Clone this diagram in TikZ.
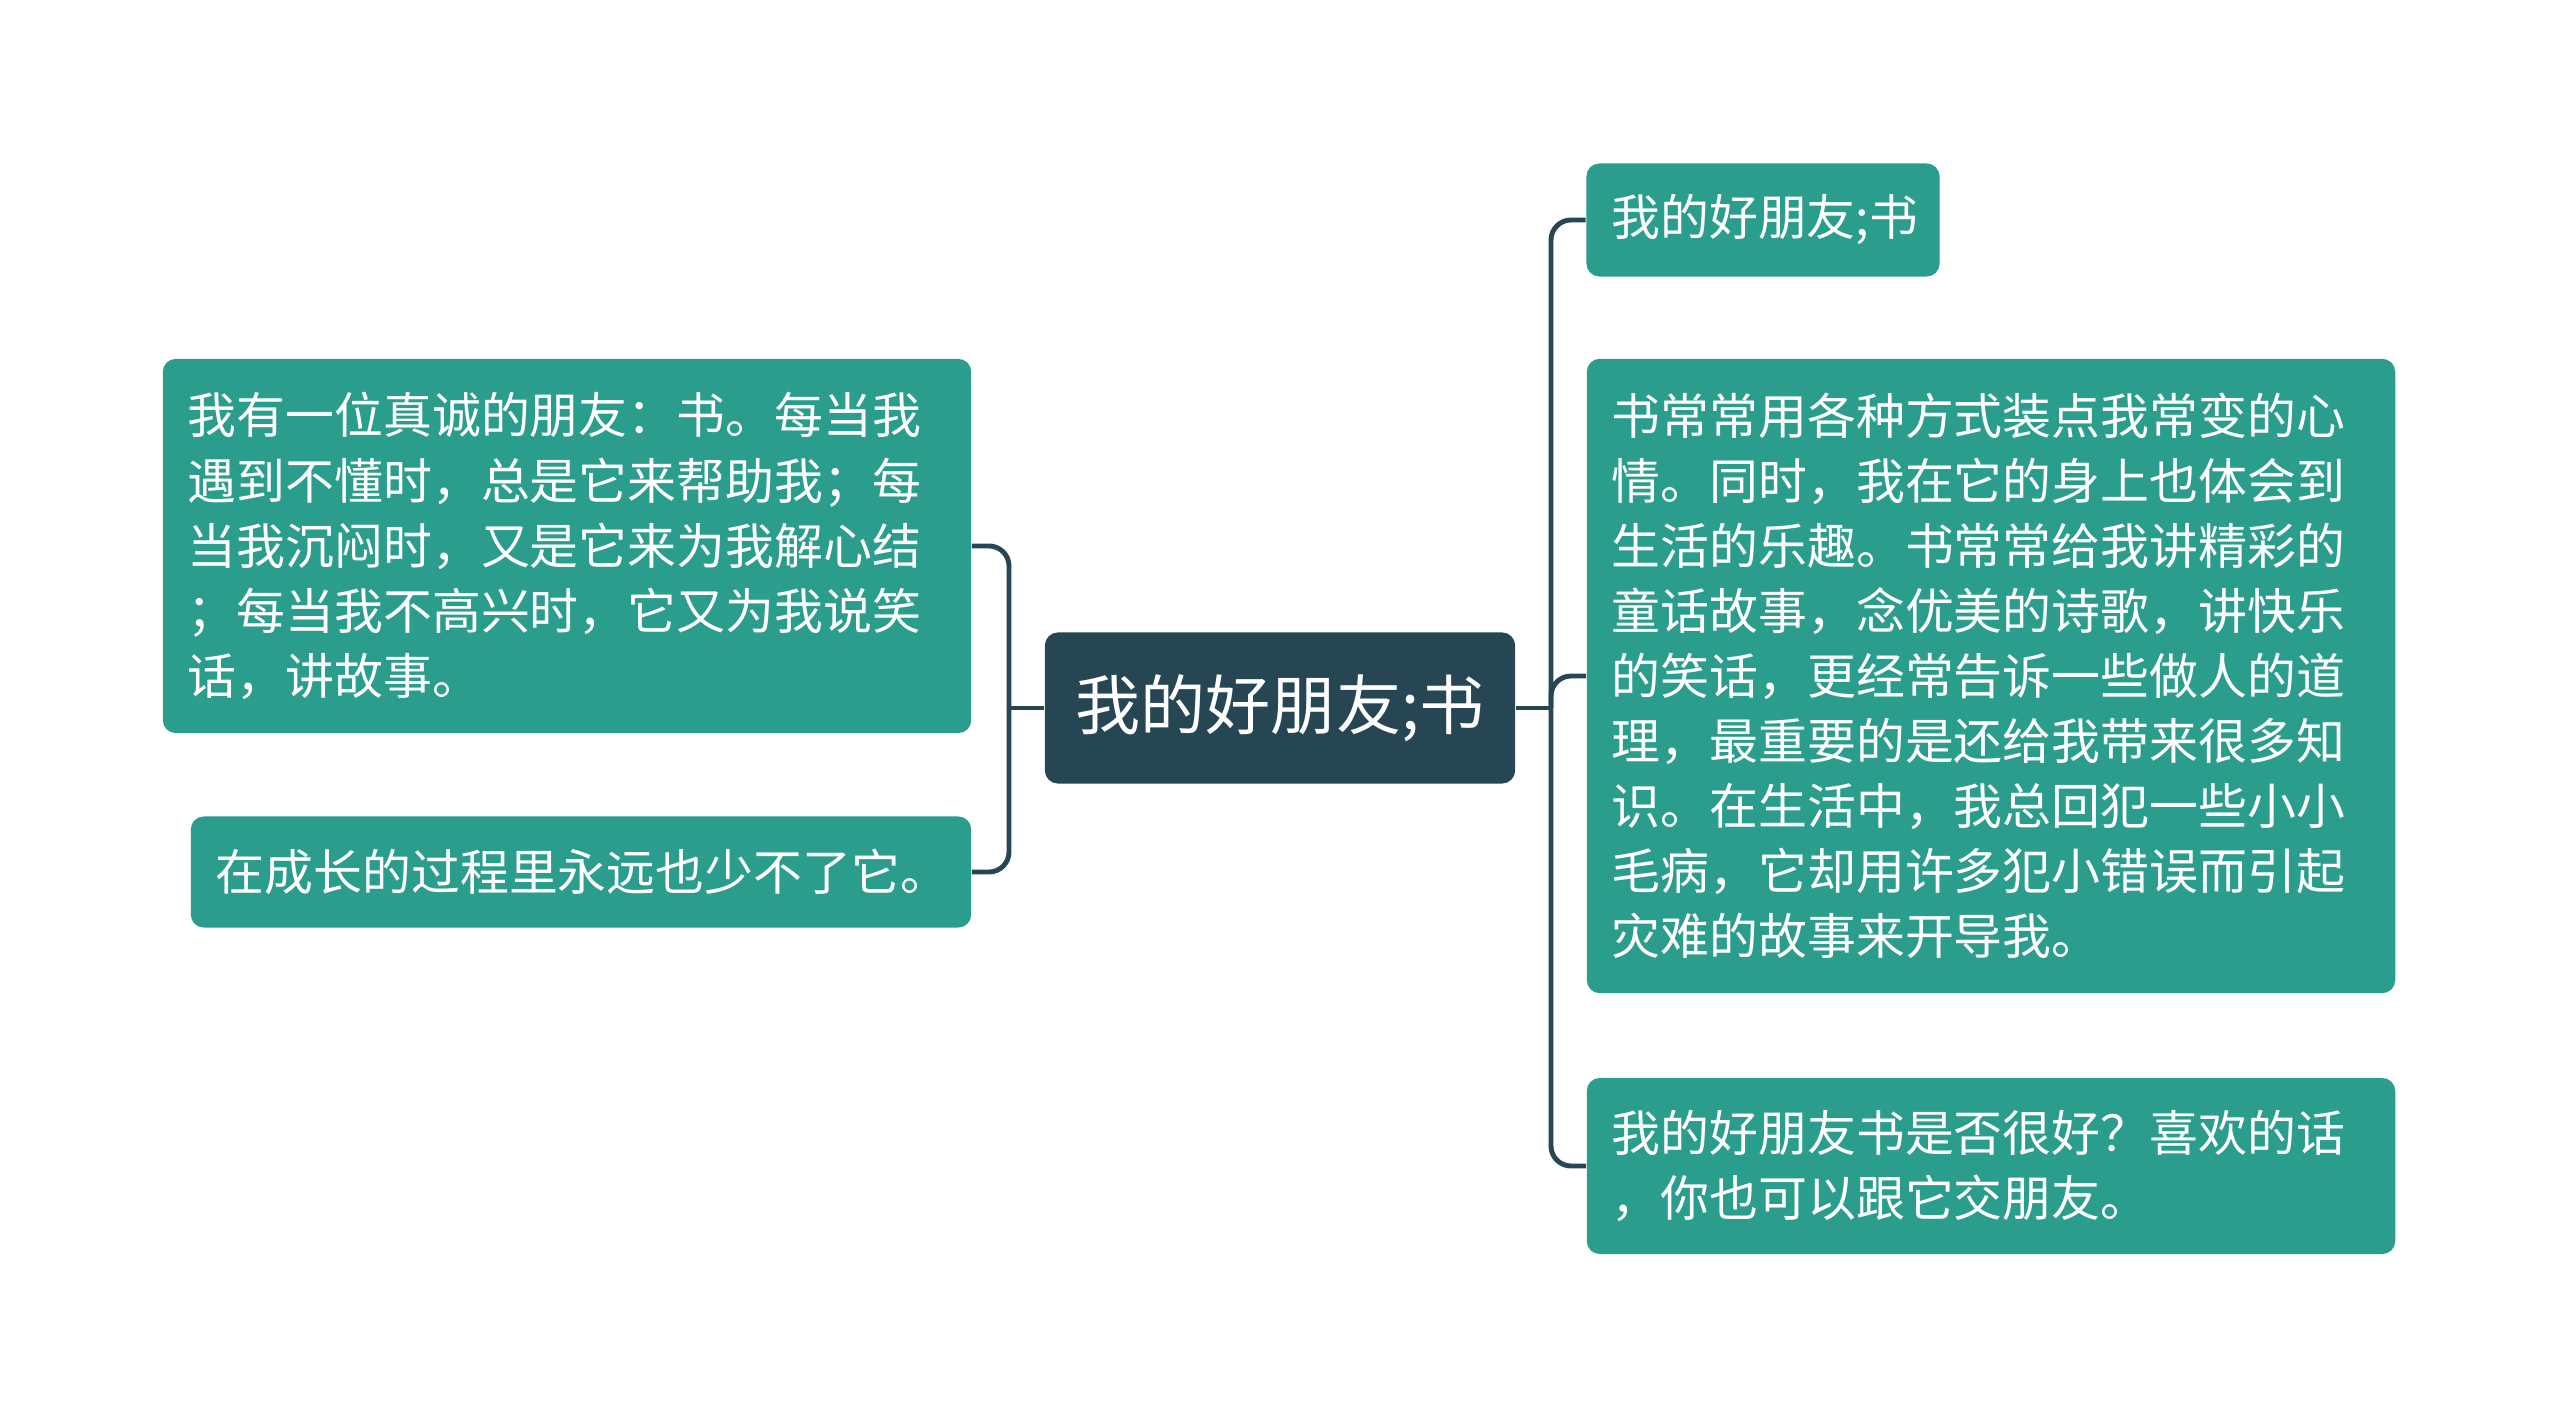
\documentclass[tikz,border=0pt]{standalone}
\usepackage{fontspec}
\setmainfont{Noto Sans CJK SC}
\usepackage{tikz}
\usetikzlibrary{positioning}
\definecolor{rootblue}{HTML}{264653}
\definecolor{leafteal}{HTML}{2A9D8C}

\begin{document}
\begin{tikzpicture}[
    x=0.01cm, y=-0.01cm,
    root/.style={fill=rootblue, text=white, rounded corners=0.13cm, minimum width=4.7cm, minimum height=1.51cm, font=\fontsize{18.5}{22}\selectfont},
    leaf/.style={fill=leafteal, text=white, rounded corners=0.13cm, inner xsep=0.25cm, align=left, font=\fontsize{13.9}{18.5}\selectfont},
    link/.style={draw=rootblue, line width=1.4pt, rounded corners=0.2cm}
]
\useasboundingbox (0,0) rectangle (2560,1419);

% Central topic
\node[root] (root) at (1280,708) {我的好朋友;书};

% Left branches
\node[leaf, text width=7.58cm, minimum height=3.74cm] (lb1) at (567,546) {我有一位真诚的朋友：书。每当我\\遇到不懂时，总是它来帮助我；每\\当我沉闷时，又是它来为我解心结\\；每当我不高兴时，它又为我说笑\\话，讲故事。};
\node[leaf, text width=7.3cm, minimum height=1.11cm] (lb2) at (581,872) {在成长的过程里永远也少不了它。};

% Right branches
\node[leaf, text width=3.03cm, minimum height=1.13cm] (rb1) at (1763,220) {我的好朋友;书};
\node[leaf, text width=7.58cm, minimum height=6.34cm] (rb2) at (1991,676) {书常常用各种方式装点我常变的心\\情。同时，我在它的身上也体会到\\生活的乐趣。书常常给我讲精彩的\\童话故事，念优美的诗歌，讲快乐\\的笑话，更经常告诉一些做人的道\\理，最重要的是还给我带来很多知\\识。在生活中，我总回犯一些小小\\毛病，它却用许多犯小错误而引起\\灾难的故事来开导我。};
\node[leaf, text width=7.58cm, minimum height=1.76cm] (rb3) at (1991,1166) {我的好朋友书是否很好？喜欢的话\\，你也可以跟它交朋友。};

% Junctions
\coordinate (lj) at (1009,708);
\coordinate (rj) at (1551,708);

% Connectors
\draw[link] (root.west) -- (lj);
\draw[link] (lj) |- (lb1.east);
\draw[link] (lj) |- (lb2.east);
\draw[link] (root.east) -- (rj);
\draw[link] (rj) |- (rb1.west);
\draw[link] (rj) |- (rb2.west);
\draw[link] (rj) |- (rb3.west);

\end{tikzpicture}
\end{document}
